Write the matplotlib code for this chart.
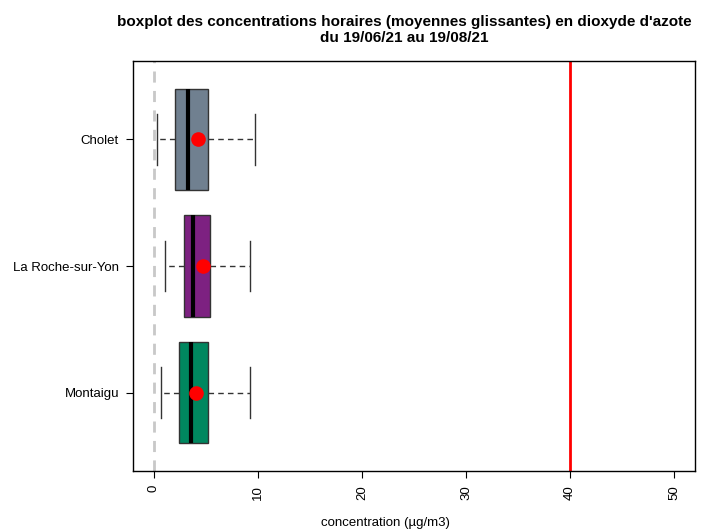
import matplotlib
matplotlib.use("Agg")
import matplotlib.pyplot as plt

plt.rcParams['font.family'] = ['Liberation Sans', 'DejaVu Sans']

sites = ["Montaigu", "La Roche-sur-Yon", "Cholet"]
whislo = [0.7, 1.1, 0.3]
q1 = [2.4, 2.9, 2.0]
med = [3.6, 3.8, 3.3]
q3 = [5.2, 5.4, 5.2]
whishi = [9.2, 9.2, 9.7]
means = [4.1, 4.75, 4.2]
colors = ["#00875F", "#7D2181", "#708090"]
seuil = 40
xticks = [0, 10, 20, 30, 40, 50]

fig = plt.figure(figsize=(7.1, 5.31), dpi=100)
ax = fig.add_axes([0.1873, 0.1130, 0.7916, 0.7721])

stats = []
for i, s in enumerate(sites):
    stats.append(dict(label=s, whislo=whislo[i], q1=q1[i], med=med[i],
                      q3=q3[i], whishi=whishi[i], mean=means[i], fliers=[]))

ax.axvline(0, color="#c8c8c8", lw=2, ls=(0, (4, 3)), zorder=0)
ax.axvline(seuil, color="red", lw=2, zorder=1)

bp = ax.bxp(stats, positions=[1, 2, 3], vert=False, widths=0.8,
            patch_artist=True, showmeans=True, showfliers=False,
            boxprops=dict(edgecolor="#333333", linewidth=1),
            medianprops=dict(color="black", linewidth=3),
            whiskerprops=dict(color="#333333", linestyle=(0, (4, 3)), linewidth=1),
            capprops=dict(color="#333333", linewidth=1),
            meanprops=dict(marker="o", markerfacecolor="red", markeredgecolor="red",
                           markersize=9.5),
            capwidths=0.4)
for patch, c in zip(bp["boxes"], colors):
    patch.set_facecolor(c)

ax.set_xlim(-2, 52)
ax.set_ylim(0.38, 3.62)
ax.set_xticks(xticks)
ax.set_xticklabels([str(t) for t in xticks], rotation=90, fontsize=9.5)
ax.set_yticks([1, 2, 3])
ax.set_yticklabels(sites, fontsize=9.5)
ax.tick_params(length=5, width=0.8, pad=5)
for sp in ax.spines.values():
    sp.set_linewidth(1)
fig.text(385 / 710, 1 - 523 / 531, "concentration (µg/m3)", fontsize=9.5,
         ha="center", va="center")
fig.text(404 / 710, 1 - 30 / 531,
         "boxplot des concentrations horaires (moyennes glissantes) en dioxyde d'azote\ndu 19/06/21 au 19/08/21",
         fontsize=11, fontweight="bold", ha="center", va="center", linespacing=1.2)

fig.savefig("out.png", dpi=100)
